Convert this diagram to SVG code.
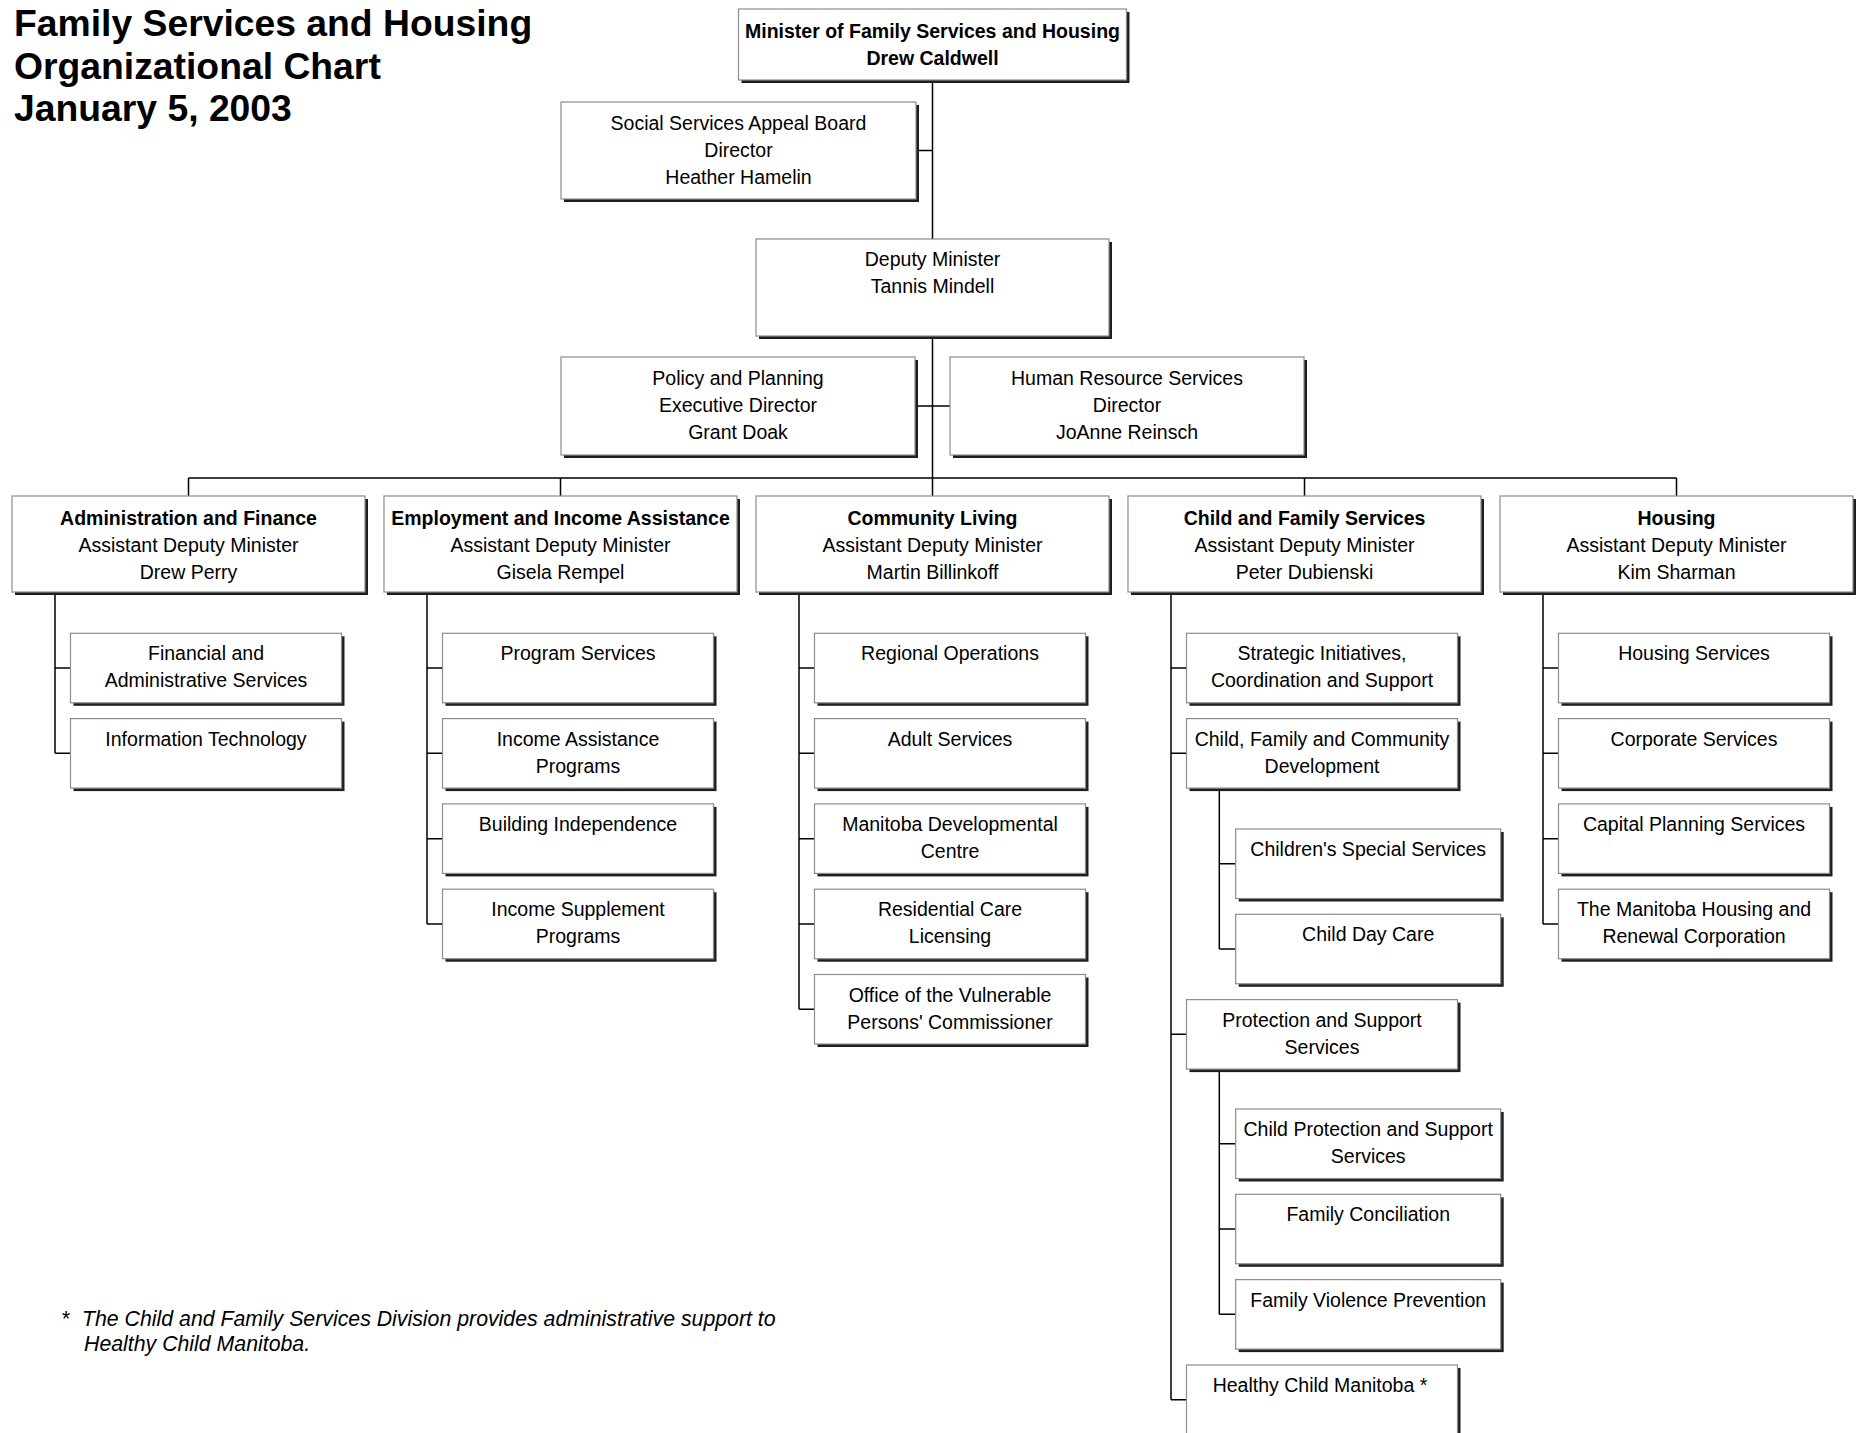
<svg xmlns="http://www.w3.org/2000/svg" width="1856" height="1433" viewBox="0 0 1856 1433">
<style>
.sh{fill:#1e1e1e}
.bx{fill:#fff;stroke:#8c8c8c;stroke-width:1.2}
text{font-family:"Liberation Sans",Arial,sans-serif;font-size:19.5px;text-anchor:middle;fill:#000}
.b{font-weight:bold}
.title{font-size:37.3px;font-weight:bold;text-anchor:start}
.foot{font-size:21.3px;font-style:italic;text-anchor:start}
.conn path{stroke:#000;stroke-width:1.5;fill:none}
</style>
<rect width="1856" height="1433" fill="#fff"/>
<g id="title">
<text class="title" x="14" y="36">Family Services and Housing</text>
<text class="title" x="14" y="78.6">Organizational Chart</text>
<text class="title" x="14" y="121.2">January 5, 2003</text>
</g>
<g class="conn" id="connectors">
<path d="M932.5 80V239M916 150.5H932.5M932.5 336V478M915 406H950M188.5 478H1676.5M188.5 478V496M560.5 478V496M932.5 478V496M1304.5 478V496M1676.5 478V496"/>
<path d="M55 592V753.35M55 668.05H70.5M55 753.35H70.5"/>
<path d="M427 592V923.95M427 668.05H442.5M427 753.35H442.5M427 838.65H442.5M427 923.95H442.5"/>
<path d="M799 592V1009.25M799 668.05H814.5M799 753.35H814.5M799 838.65H814.5M799 923.95H814.5M799 1009.25H814.5"/>
<path d="M1171 592V1399.75M1171 668.05H1186.5M1171 753.35H1186.5M1171 1034.35H1186.5M1171 1399.75H1186.5"/>
<path d="M1219.3 788.1V949M1219.3 863.75H1235.7M1219.3 949H1235.7"/>
<path d="M1219.3 1069.1V1314.35M1219.3 1143.75H1235.7M1219.3 1229H1235.7M1219.3 1314.35H1235.7"/>
<path d="M1543 592V923.95M1543 668.05H1558.5M1543 753.35H1558.5M1543 838.65H1558.5M1543 923.95H1558.5"/>
</g>
<g id="n-minister"><rect class="sh" x="741.5" y="12" width="388" height="71"/><rect class="bx" x="738.5" y="9" width="388" height="71"/><text class="b" x="932.5" y="37.5">Minister of Family Services and Housing</text><text class="b" x="932.5" y="64.5">Drew Caldwell</text></g>
<g id="n-appeal"><rect class="sh" x="564" y="105" width="355" height="97"/><rect class="bx" x="561" y="102" width="355" height="97"/><text x="738.5" y="129.5">Social Services Appeal Board</text><text x="738.5" y="156.5">Director</text><text x="738.5" y="183.5">Heather Hamelin</text></g>
<g id="n-deputy"><rect class="sh" x="759" y="242" width="353" height="97"/><rect class="bx" x="756" y="239" width="353" height="97"/><text x="932.5" y="266">Deputy Minister</text><text x="932.5" y="293">Tannis Mindell</text></g>
<g id="n-policy"><rect class="sh" x="564" y="360" width="354" height="98"/><rect class="bx" x="561" y="357" width="354" height="98"/><text x="738" y="384.5">Policy and Planning</text><text x="738" y="411.5">Executive Director</text><text x="738" y="438.5">Grant Doak</text></g>
<g id="n-hr"><rect class="sh" x="953" y="360" width="354" height="98"/><rect class="bx" x="950" y="357" width="354" height="98"/><text x="1127" y="384.5">Human Resource Services</text><text x="1127" y="411.5">Director</text><text x="1127" y="438.5">JoAnne Reinsch</text></g>
<g id="n-admin"><rect class="sh" x="15" y="499" width="353" height="96"/><rect class="bx" x="12" y="496" width="353" height="96"/><text class="b" x="188.5" y="524.5">Administration and Finance</text><text x="188.5" y="551.5">Assistant Deputy Minister</text><text x="188.5" y="578.5">Drew Perry</text></g>
<g id="n-eia"><rect class="sh" x="387" y="499" width="353" height="96"/><rect class="bx" x="384" y="496" width="353" height="96"/><text class="b" x="560.5" y="524.5">Employment and Income Assistance</text><text x="560.5" y="551.5">Assistant Deputy Minister</text><text x="560.5" y="578.5">Gisela Rempel</text></g>
<g id="n-cl"><rect class="sh" x="759" y="499" width="353" height="96"/><rect class="bx" x="756" y="496" width="353" height="96"/><text class="b" x="932.5" y="524.5">Community Living</text><text x="932.5" y="551.5">Assistant Deputy Minister</text><text x="932.5" y="578.5">Martin Billinkoff</text></g>
<g id="n-cfs"><rect class="sh" x="1131" y="499" width="353" height="96"/><rect class="bx" x="1128" y="496" width="353" height="96"/><text class="b" x="1304.5" y="524.5">Child and Family Services</text><text x="1304.5" y="551.5">Assistant Deputy Minister</text><text x="1304.5" y="578.5">Peter Dubienski</text></g>
<g id="n-housing"><rect class="sh" x="1503" y="499" width="353" height="96"/><rect class="bx" x="1500" y="496" width="353" height="96"/><text class="b" x="1676.5" y="524.5">Housing</text><text x="1676.5" y="551.5">Assistant Deputy Minister</text><text x="1676.5" y="578.5">Kim Sharman</text></g>
<g id="n-fas"><rect class="sh" x="73.5" y="636.3" width="271" height="69.5"/><rect class="bx" x="70.5" y="633.3" width="271" height="69.5"/><text x="206" y="660.3">Financial and</text><text x="206" y="687.3">Administrative Services</text></g>
<g id="n-it"><rect class="sh" x="73.5" y="721.6" width="271" height="69.5"/><rect class="bx" x="70.5" y="718.6" width="271" height="69.5"/><text x="206" y="745.6">Information Technology</text></g>
<g id="n-ps"><rect class="sh" x="445.5" y="636.3" width="271" height="69.5"/><rect class="bx" x="442.5" y="633.3" width="271" height="69.5"/><text x="578" y="660.3">Program Services</text></g>
<g id="n-iap"><rect class="sh" x="445.5" y="721.6" width="271" height="69.5"/><rect class="bx" x="442.5" y="718.6" width="271" height="69.5"/><text x="578" y="745.6">Income Assistance</text><text x="578" y="772.6">Programs</text></g>
<g id="n-bi"><rect class="sh" x="445.5" y="806.9" width="271" height="69.5"/><rect class="bx" x="442.5" y="803.9" width="271" height="69.5"/><text x="578" y="830.9">Building Independence</text></g>
<g id="n-isp"><rect class="sh" x="445.5" y="892.2" width="271" height="69.5"/><rect class="bx" x="442.5" y="889.2" width="271" height="69.5"/><text x="578" y="916.2">Income Supplement</text><text x="578" y="943.2">Programs</text></g>
<g id="n-ro"><rect class="sh" x="817.5" y="636.3" width="271" height="69.5"/><rect class="bx" x="814.5" y="633.3" width="271" height="69.5"/><text x="950" y="660.3">Regional Operations</text></g>
<g id="n-as"><rect class="sh" x="817.5" y="721.6" width="271" height="69.5"/><rect class="bx" x="814.5" y="718.6" width="271" height="69.5"/><text x="950" y="745.6">Adult Services</text></g>
<g id="n-mdc"><rect class="sh" x="817.5" y="806.9" width="271" height="69.5"/><rect class="bx" x="814.5" y="803.9" width="271" height="69.5"/><text x="950" y="830.9">Manitoba Developmental</text><text x="950" y="857.9">Centre</text></g>
<g id="n-rcl"><rect class="sh" x="817.5" y="892.2" width="271" height="69.5"/><rect class="bx" x="814.5" y="889.2" width="271" height="69.5"/><text x="950" y="916.2">Residential Care</text><text x="950" y="943.2">Licensing</text></g>
<g id="n-ovpc"><rect class="sh" x="817.5" y="977.5" width="271" height="69.5"/><rect class="bx" x="814.5" y="974.5" width="271" height="69.5"/><text x="950" y="1001.5">Office of the Vulnerable</text><text x="950" y="1028.5">Persons' Commissioner</text></g>
<g id="n-sics"><rect class="sh" x="1189.5" y="636.3" width="271" height="69.5"/><rect class="bx" x="1186.5" y="633.3" width="271" height="69.5"/><text x="1322" y="660.3">Strategic Initiatives,</text><text x="1322" y="687.3">Coordination and Support</text></g>
<g id="n-cfcd"><rect class="sh" x="1189.5" y="721.6" width="271" height="69.5"/><rect class="bx" x="1186.5" y="718.6" width="271" height="69.5"/><text x="1322" y="745.6">Child, Family and Community</text><text x="1322" y="772.6">Development</text></g>
<g id="n-css"><rect class="sh" x="1238.7" y="832" width="265" height="69.5"/><rect class="bx" x="1235.7" y="829" width="265" height="69.5"/><text x="1368.2" y="856">Children's Special Services</text></g>
<g id="n-cdc"><rect class="sh" x="1238.7" y="917.3" width="265" height="69.5"/><rect class="bx" x="1235.7" y="914.3" width="265" height="69.5"/><text x="1368.2" y="941.3">Child Day Care</text></g>
<g id="n-pss"><rect class="sh" x="1189.5" y="1002.6" width="271" height="69.5"/><rect class="bx" x="1186.5" y="999.6" width="271" height="69.5"/><text x="1322" y="1026.6">Protection and Support</text><text x="1322" y="1053.6">Services</text></g>
<g id="n-cpss"><rect class="sh" x="1238.7" y="1112" width="265" height="69.5"/><rect class="bx" x="1235.7" y="1109" width="265" height="69.5"/><text x="1368.2" y="1136">Child Protection and Support</text><text x="1368.2" y="1163">Services</text></g>
<g id="n-fc"><rect class="sh" x="1238.7" y="1197.3" width="265" height="69.5"/><rect class="bx" x="1235.7" y="1194.3" width="265" height="69.5"/><text x="1368.2" y="1221.3">Family Conciliation</text></g>
<g id="n-fvp"><rect class="sh" x="1238.7" y="1282.6" width="265" height="69.5"/><rect class="bx" x="1235.7" y="1279.6" width="265" height="69.5"/><text x="1368.2" y="1306.6">Family Violence Prevention</text></g>
<g id="n-hcm"><rect class="sh" x="1189.5" y="1368" width="271" height="69.5"/><rect class="bx" x="1186.5" y="1365" width="271" height="69.5"/><text x="1320" y="1392">Healthy Child Manitoba *</text></g>
<g id="n-hs"><rect class="sh" x="1561.5" y="636.3" width="271" height="69.5"/><rect class="bx" x="1558.5" y="633.3" width="271" height="69.5"/><text x="1694" y="660.3">Housing Services</text></g>
<g id="n-cs"><rect class="sh" x="1561.5" y="721.6" width="271" height="69.5"/><rect class="bx" x="1558.5" y="718.6" width="271" height="69.5"/><text x="1694" y="745.6">Corporate Services</text></g>
<g id="n-cps"><rect class="sh" x="1561.5" y="806.9" width="271" height="69.5"/><rect class="bx" x="1558.5" y="803.9" width="271" height="69.5"/><text x="1694" y="830.9">Capital Planning Services</text></g>
<g id="n-mhrc"><rect class="sh" x="1561.5" y="892.2" width="271" height="69.5"/><rect class="bx" x="1558.5" y="889.2" width="271" height="69.5"/><text x="1694" y="916.2">The Manitoba Housing and</text><text x="1694" y="943.2">Renewal Corporation</text></g>
<g id="footnote">
<text class="foot" x="61" y="1326">*</text>
<text class="foot" x="82" y="1326">The Child and Family Services Division provides administrative support to</text>
<text class="foot" x="84" y="1351">Healthy Child Manitoba.</text>
</g>
</svg>
